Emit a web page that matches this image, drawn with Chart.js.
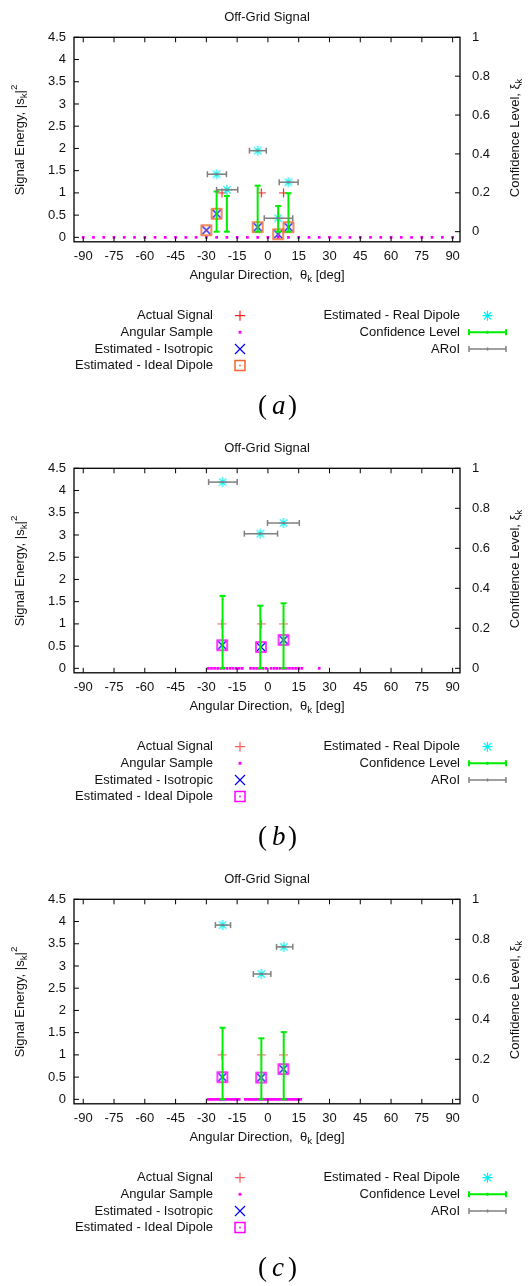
<!DOCTYPE html>
<html lang="en">
<head>
<meta charset="UTF-8">
<title>Off-Grid Signal</title>
<script src="https://cdn.jsdelivr.net/npm/chart.js@4"></script>
<style>
  body { margin: 0; background: #fff; overflow: hidden; }
  canvas { display: block; }
</style>
</head>
<body>
<canvas id="chartA" width="529" height="431"></canvas>
<canvas id="chartB" width="529" height="431"></canvas>
<canvas id="chartC" width="529" height="424"></canvas>
<script>
// ticks
const xTicks = [-90, -75, -60, -45, -30, -15, 0, 15, 30, 45, 60, 75, 90];
const yTicks = [0, 0.5, 1, 1.5, 2, 2.5, 3, 3.5, 4, 4.5];
const y2Ticks = [0, 0.2, 0.4, 0.6, 0.8, 1];

// actual signal (same for all panels)
const srcAng = [-22.4, -3.2, 7.6];
const srcEnergy = [1, 1, 1];

// (a)
const samplesA = [-90, -85, -80, -75, -70, -65, -60, -55, -50, -45, -40, -35, -30, -25, -20, -15, -10, -5, 0,
  5, 10, 15, 20, 25, 30, 35, 40, 45, 50, 55, 60, 65, 70, 75, 80, 85, 90];
const isoAngA = [-30, -25, -5, 5, 10];
const isoEnA = [0.16, 0.53, 0.23, 0.07, 0.23];
const dipAngA = [-30, -25, -5, 5, 10];
const dipEnA = [0.16, 0.53, 0.23, 0.07, 0.23];
const realAngA = [-25, -20, -5, 5, 10];
const realEnA = [1.42, 1.07, 1.95, 0.43, 1.24];
const aroiLoA = [-29.5, -25, -9, -1.8, 5.5];
const aroiHiA = [-20.2, -14.7, -0.8, 12.1, 14.7];
const confA = [0.207, 0.184, 0.237, 0.132, 0.198];

// (b)
const samplesB = [-29, -27.5, -26, -24.5, -23, -21.5, -20, -18.5, -17, -15.5, -14, -12.5,
  -8.5, -7, -5.5, -4, -2.5, -1, 1.5, 3, 4.5, 6, 7.5, 9, 10.5, 12, 13.5, 15, 16.5, 25];
const isoAngB = [-22.3, -3.4, 7.6];
const isoEnB = [0.52, 0.48, 0.64];
const dipAngB = [-22.3, -3.4, 7.6];
const dipEnB = [0.52, 0.48, 0.64];
const realAngB = [-22.1, -3.7, 7.6];
const realEnB = [4.19, 3.03, 3.27];
const aroiLoB = [-28.9, -11.5, -0.2];
const aroiHiB = [-15, 4.7, 15.3];
const confB = [0.362, 0.313, 0.325];

// (c)
const samplesC = [-29, -28, -27, -26, -25, -24, -23, -22, -21, -20, -19, -18, -17, -16, -15, -14,
  -11, -10, -9, -8, -7, -6, -5, -4, -3, -2, -1, 0, 1, 2, 3, 4, 5, 6, 7, 8, 9, 10, 11, 12, 13, 14, 15, 16];
const isoAngC = [-22.2, -3.3, 7.5];
const isoEnC = [0.5, 0.49, 0.68];
const dipAngC = [-22.2, -3.3, 7.5];
const dipEnC = [0.5, 0.49, 0.68];
const realAngC = [-22.1, -3.2, 7.7];
const realEnC = [3.92, 2.82, 3.43];
const aroiLoC = [-25.6, -7.1, 4.2];
const aroiHiC = [-18.2, 1.45, 12.1];
const confC = [0.358, 0.305, 0.336];

const FONT = '"Liberation Sans", Arial, Helvetica, sans-serif';
const TXT = '#111';

function drawMarker(g, kind, x, y, r, color, lw) {
  g.save();
  g.strokeStyle = color; g.fillStyle = color; g.lineWidth = lw;
  g.beginPath();
  if (kind === 'plus' || kind === 'star') {
    g.moveTo(x - r, y); g.lineTo(x + r, y);
    g.moveTo(x, y - r); g.lineTo(x, y + r);
  }
  if (kind === 'cross' || kind === 'star') {
    const d = kind === 'star' ? r * 0.72 : r;
    g.moveTo(x - d, y - d); g.lineTo(x + d, y + d);
    g.moveTo(x - d, y + d); g.lineTo(x + d, y - d);
  }
  if (kind === 'box') g.rect(x - r, y - r, 2 * r, 2 * r);
  g.stroke();
  if (kind === 'box') g.fillRect(x - 0.8, y - 0.8, 1.6, 1.6);
  if (kind === 'dot') g.fillRect(x - r, y - r, 2 * r, 2 * r);
  g.restore();
}

function markerImg(kind, color, r, lw) {
  const s = Math.ceil(2 * r + lw + 2);
  const c = document.createElement('canvas');
  c.width = s; c.height = s;
  drawMarker(c.getContext('2d'), kind, s / 2, s / 2, r, color, lw);
  return c;
}

function drawRich(ctx, parts, x, y, rot, size) {
  ctx.save();
  ctx.translate(x, y);
  ctx.rotate(rot);
  let w = 0;
  const items = parts.map(p => {
    const fs = p[1] ? size * 0.75 : size;
    ctx.font = fs + 'px ' + FONT;
    const it = { t: p[0], fs: fs, w: ctx.measureText(p[0]).width,
      dy: p[1] === 'sub' ? size * 0.3 : p[1] === 'sup' ? -size * 0.42 : 0 };
    w += it.w;
    return it;
  });
  let cx = -w / 2;
  ctx.textAlign = 'left'; ctx.textBaseline = 'middle'; ctx.fillStyle = TXT;
  items.forEach(it => {
    ctx.font = it.fs + 'px ' + FONT;
    ctx.fillText(it.t, cx, it.dy);
    cx += it.w;
  });
  ctx.restore();
}

function errLine(ctx, x1, y1, x2, y2) {
  ctx.beginPath(); ctx.moveTo(x1, y1); ctx.lineTo(x2, y2); ctx.stroke();
}

const offgrid = {
  id: 'offgrid',
  afterDatasetsDraw(chart, args, o) {
    const { ctx, scales: { x, y, y2 } } = chart;
    ctx.save();
    // confidence level
    ctx.strokeStyle = '#00ee00'; ctx.lineWidth = 2;
    o.realAng.forEach((a, i) => {
      const px = x.getPixelForValue(a);
      const p0 = y2.getPixelForValue(0), p1 = y2.getPixelForValue(o.conf[i]);
      errLine(ctx, px, p0, px, p1);
      errLine(ctx, px - 3, p0, px + 3, p0);
      errLine(ctx, px - 3, p1, px + 3, p1);
    });
    // ARoI
    ctx.strokeStyle = '#808080'; ctx.lineWidth = 1.5;
    o.realAng.forEach((a, i) => {
      const py = y.getPixelForValue(o.realEn[i]);
      const l = x.getPixelForValue(o.lo[i]), r = x.getPixelForValue(o.hi[i]);
      errLine(ctx, l, py, r, py);
      errLine(ctx, l, py - 3, l, py + 3);
      errLine(ctx, r, py - 3, r, py + 3);
      ctx.fillStyle = '#808080';
      ctx.fillRect(x.getPixelForValue(a) - 1, py - 1, 2, 2);
    });
    ctx.restore();
  },
  afterDraw(chart, args, o) {
    const { ctx, chartArea: ca, scales: { x, y, y2 } } = chart;
    ctx.save();
    // border + inward ticks
    ctx.strokeStyle = '#000'; ctx.lineWidth = 1.3;
    ctx.strokeRect(ca.left, ca.top, ca.right - ca.left, ca.bottom - ca.top);
    ctx.lineWidth = 1;
    xTicks.forEach(v => {
      const px = x.getPixelForValue(v);
      errLine(ctx, px, ca.bottom, px, ca.bottom - 5);
      errLine(ctx, px, ca.top, px, ca.top + 5);
    });
    yTicks.forEach(v => {
      const py = y.getPixelForValue(v);
      errLine(ctx, ca.left, py, ca.left + 5, py);
    });
    y2Ticks.forEach(v => {
      const py = y2.getPixelForValue(v);
      errLine(ctx, ca.right, py, ca.right - 5, py);
    });

    // titles
    ctx.fillStyle = TXT; ctx.font = '13px ' + FONT;
    ctx.textAlign = 'center'; ctx.textBaseline = 'middle';
    ctx.fillText('Off-Grid Signal', 267, 17);
    drawRich(ctx, [['Signal Energy, |s'], ['k', 'sub'], ['|'], ['2', 'sup']], 20, 140, -Math.PI / 2, 13);
    drawRich(ctx, [['Angular Direction,  θ'], ['k', 'sub'], [' [deg]']], 267, 275, 0, 13);
    drawRich(ctx, [['Confidence Level, ξ'], ['k', 'sub']], 515, 138, -Math.PI / 2, 13);

    // legend
    const rows = [315.7, 332.3, 349, 365.5];
    ctx.font = '13px ' + FONT; ctx.textAlign = 'right'; ctx.fillStyle = TXT;
    const left = [['Actual Signal', 'plus', o.red, 5, 1.2],
      ['Angular Sample', 'dot', '#ff00ff', 1.4, 1],
      ['Estimated - Isotropic', 'cross', '#0000ff', 5, 1.2],
      ['Estimated - Ideal Dipole', 'box', o.box, 5, 1.5]];
    left.forEach((e, i) => {
      ctx.fillText(e[0], 213, rows[i]);
      drawMarker(ctx, e[1], 240, rows[i], e[3], e[2], e[4]);
    });
    ctx.fillText('Estimated - Real Dipole', 460, rows[0]);
    drawMarker(ctx, 'star', 487.5, rows[0], 5, '#00f0f0', 1.2);
    ctx.fillText('Confidence Level', 460, rows[1]);
    ctx.fillText('ARoI', 460, rows[2]);
    [['#00ee00', 2, rows[1]], ['#808080', 1.5, rows[2]]].forEach(s => {
      ctx.strokeStyle = s[0]; ctx.lineWidth = s[1];
      errLine(ctx, 469, s[2], 506, s[2]);
      errLine(ctx, 469, s[2] - 3, 469, s[2] + 3);
      errLine(ctx, 506, s[2] - 3, 506, s[2] + 3);
      errLine(ctx, 487.5, s[2] - 1.5, 487.5, s[2] + 1.5);
    });

    // caption
    ctx.fillStyle = '#000'; ctx.textAlign = 'left'; ctx.textBaseline = 'alphabetic';
    ctx.font = '27px "Liberation Serif", "Times New Roman", serif';
    ctx.fillText('(', 258, 414);
    ctx.fillText(')', 288, 414);
    ctx.font = 'italic 27px "Liberation Serif", "Times New Roman", serif';
    ctx.fillText(o.caption, 272, 414);
    ctx.restore();
  }
};

function pts(xs, ys) {
  return xs.map((v, i) => ({ x: v, y: ys[i] }));
}

function makeChart(id, p) {
  const canvas = document.getElementById(id);
  const tickFont = { family: FONT, size: 13 };
  return new Chart(canvas, {
    type: 'scatter',
    data: {
      datasets: [
        { label: 'Estimated - Real Dipole', data: pts(p.realAng, p.realEn), pointStyle: markerImg('star', '#00f0f0', 5, 1.2), pointRadius: 5, order: 1 },
        { label: 'Estimated - Ideal Dipole', data: pts(p.dipAng, p.dipEn), pointStyle: markerImg('box', p.box, 5, 1.5), pointRadius: 5, order: 2 },
        { label: 'Estimated - Isotropic', data: pts(p.isoAng, p.isoEn), pointStyle: markerImg('cross', '#0000ff', 4, 1.2), pointRadius: 5, order: 3 },
        { label: 'Angular Sample', data: p.samples.map(v => ({ x: v, y: 0 })), pointStyle: 'rect', pointRadius: 1.9,
          backgroundColor: '#ff00ff', borderWidth: 0, order: 4 },
        { label: 'Actual Signal', data: pts(srcAng, srcEnergy), pointStyle: markerImg('plus', p.red, 4.5, 1.2), pointRadius: 5, order: 5 }
      ]
    },
    options: {
      responsive: false,
      animation: false,
      events: [],
      devicePixelRatio: 1,
      layout: { padding: { top: 37.3, left: 0, right: 0, bottom: canvas.height - 241.8 - 50 } },
      scales: {
        x: {
          type: 'linear', position: 'bottom', min: -94.5, max: 93.6,
          afterBuildTicks: s => { s.ticks = xTicks.map(v => ({ value: v })); },
          afterFit: s => { s.height = 50; },
          grid: { display: false, drawTicks: false }, border: { display: false },
          ticks: { font: tickFont, color: TXT, padding: 7, autoSkip: false, maxRotation: 0, callback: v => String(v) }
        },
        y: {
          type: 'linear', position: 'left', min: -0.1, max: 4.5,
          afterBuildTicks: s => { s.ticks = yTicks.map(v => ({ value: v })); },
          afterFit: s => { s.width = 74; },
          grid: { display: false, drawTicks: false }, border: { display: false },
          ticks: { font: tickFont, color: TXT, padding: 8, callback: v => String(v) }
        },
        y2: {
          type: 'linear', position: 'right', min: p.y2min, max: 1,
          afterBuildTicks: s => { s.ticks = y2Ticks.map(v => ({ value: v })); },
          afterFit: s => { s.width = 69; },
          grid: { display: false, drawTicks: false }, border: { display: false },
          ticks: { font: tickFont, color: TXT, padding: 12, callback: v => String(v) }
        }
      },
      plugins: {
        legend: { display: false },
        tooltip: { enabled: false },
        offgrid: { realAng: p.realAng, realEn: p.realEn, lo: p.lo, hi: p.hi, conf: p.conf,
          caption: p.caption, red: p.red, box: p.box }
      }
    },
    plugins: [offgrid]
  });
}

makeChart('chartA', { samples: samplesA, isoAng: isoAngA, isoEn: isoEnA, dipAng: dipAngA, dipEn: dipEnA,
  realAng: realAngA, realEn: realEnA, lo: aroiLoA, hi: aroiHiA, conf: confA, y2min: -0.052,
  caption: 'a', red: '#ff2020', box: '#f0642c' });
makeChart('chartB', { samples: samplesB, isoAng: isoAngB, isoEn: isoEnB, dipAng: dipAngB, dipEn: dipEnB,
  realAng: realAngB, realEn: realEnB, lo: aroiLoB, hi: aroiHiB, conf: confB, y2min: -0.0225,
  caption: 'b', red: '#ff5c5c', box: '#ff00ff' });
makeChart('chartC', { samples: samplesC, isoAng: isoAngC, isoEn: isoEnC, dipAng: dipAngC, dipEn: dipEnC,
  realAng: realAngC, realEn: realEnC, lo: aroiLoC, hi: aroiHiC, conf: confC, y2min: -0.0225,
  caption: 'c', red: '#ff5c5c', box: '#ff00ff' });
</script>
</body>
</html>
